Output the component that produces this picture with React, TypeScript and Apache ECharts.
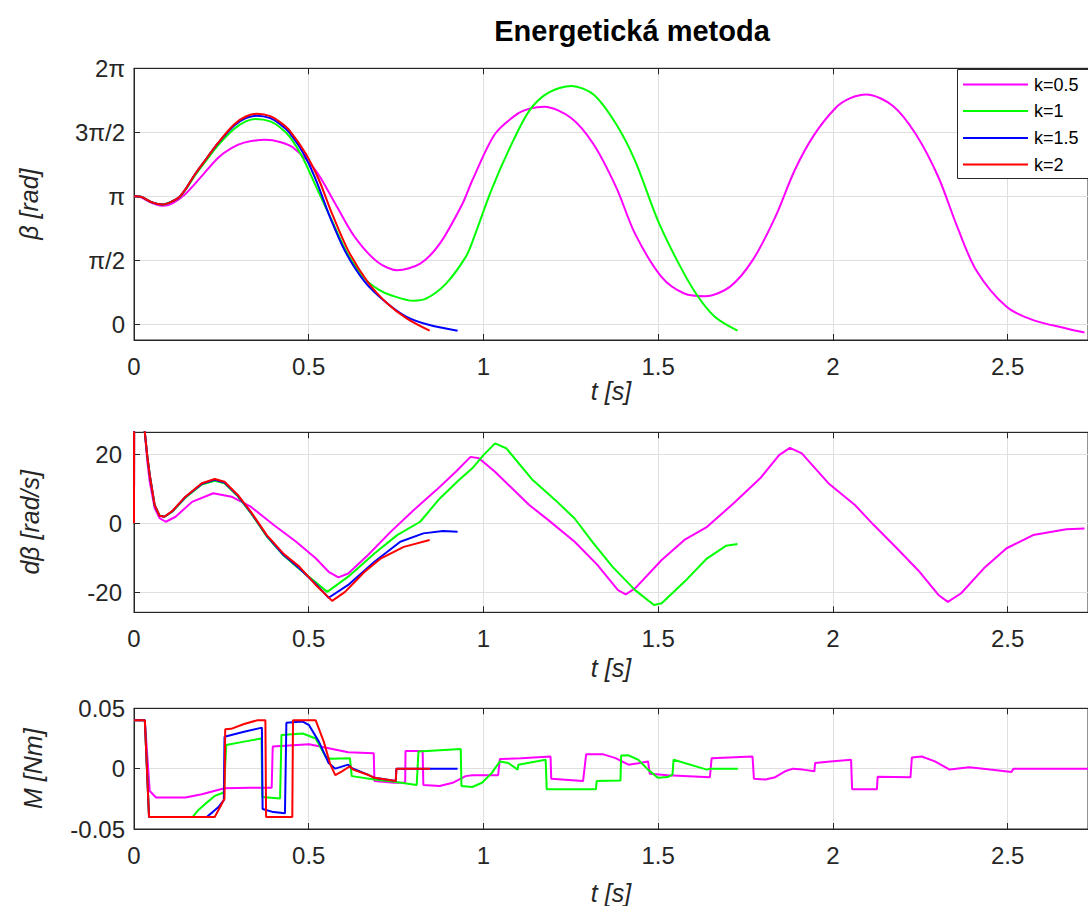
import React, { useEffect, useRef } from "react";
import * as echarts from "echarts";

const PI = Math.PI;
const seriesNames = ["k=0.5", "k=1", "k=1.5", "k=2"];
const seriesColors = ["#ff00ff", "#00ff00", "#0000ff", "#ff0000"];
const xTickLabels = ["0", "0.5", "1", "1.5", "2", "2.5"];
const betaTickValues = [0, PI / 2, PI, (3 * PI) / 2, 2 * PI];
const betaTickLabels = ["0", "π/2", "π", "3π/2", "2π"];
const dBetaTickValues = [-20, 0, 20];

// beta [rad]
const betaK05: number[][] = [
  [0, 3.1416], [0.02, 3.12], [0.05, 2.98], [0.082, 2.91], [0.11, 2.97], [0.147, 3.2], [0.19, 3.6], [0.241, 4.09],
  [0.28, 4.33], [0.315, 4.46], [0.376, 4.53], [0.42, 4.47], [0.455, 4.34], [0.52, 3.77], [0.576, 2.96], [0.632, 2.14],
  [0.697, 1.53], [0.753, 1.33], [0.819, 1.49], [0.875, 1.98], [0.94, 2.96], [0.968, 3.53], [1.033, 4.67], [1.098, 5.17],
  [1.135, 5.3], [1.174, 5.34], [1.25, 5.07], [1.315, 4.42], [1.38, 3.36], [1.434, 2.22], [1.51, 1.16], [1.575, 0.757],
  [1.635, 0.69], [1.705, 0.92], [1.77, 1.57], [1.835, 2.63], [1.89, 3.77], [1.944, 4.62], [2.009, 5.32], [2.05, 5.55],
  [2.096, 5.64], [2.172, 5.36], [2.237, 4.67], [2.302, 3.61], [2.356, 2.39], [2.41, 1.33], [2.497, 0.43], [2.573, 0.105],
  [2.668, -0.1], [2.72, -0.2],
];
const betaK1: number[][] = [
  [0, 3.1416], [0.02, 3.13], [0.05, 3.0], [0.082, 2.94], [0.11, 3.02], [0.129, 3.11], [0.15, 3.33], [0.175, 3.66],
  [0.21, 4.06], [0.241, 4.4], [0.287, 4.8], [0.32, 4.98], [0.348, 5.04], [0.39, 4.98], [0.42, 4.82], [0.446, 4.6],
  [0.483, 4.09], [0.52, 3.4], [0.566, 2.55], [0.61, 1.75], [0.66, 1.12], [0.7, 0.85], [0.735, 0.716], [0.8, 0.577],
  [0.837, 0.635], [0.893, 1.0], [0.949, 1.65], [0.968, 2.02], [1.023, 3.3], [1.076, 4.34], [1.131, 5.24], [1.185, 5.68],
  [1.252, 5.85], [1.315, 5.64], [1.38, 4.91], [1.434, 4.01], [1.499, 2.55], [1.554, 1.57], [1.608, 0.757], [1.662, 0.186],
  [1.727, -0.156],
];
const betaK15: number[][] = [
  [0, 3.1416], [0.02, 3.13], [0.05, 3.0], [0.082, 2.94], [0.11, 3.02], [0.129, 3.117], [0.15, 3.35], [0.175, 3.69],
  [0.21, 4.1], [0.241, 4.45], [0.287, 4.88], [0.32, 5.06], [0.352, 5.12], [0.39, 5.06], [0.42, 4.9], [0.446, 4.69],
  [0.49, 4.12], [0.525, 3.45], [0.56, 2.65], [0.605, 1.78], [0.66, 1.05], [0.72, 0.55], [0.78, 0.186], [0.846, -0.017],
  [0.926, -0.156],
];
const betaK2: number[][] = [
  [0, 3.1416], [0.02, 3.13], [0.05, 3.0], [0.082, 2.94], [0.11, 3.02], [0.129, 3.117], [0.15, 3.35], [0.175, 3.69],
  [0.21, 4.1], [0.241, 4.46], [0.287, 4.91], [0.32, 5.1], [0.352, 5.17], [0.39, 5.11], [0.42, 4.95], [0.446, 4.75],
  [0.492, 4.18], [0.53, 3.53], [0.567, 2.71], [0.613, 1.81], [0.669, 1.04], [0.725, 0.51], [0.78, 0.147], [0.846, -0.156],
];

// d beta [rad/s]
const dBetaK05: number[][] = [
  [0, 0], [0.0005, 45], [0.031, 26.3], [0.038, 18], [0.045, 12], [0.059, 4.5], [0.073, 1.5], [0.091, 0.46], [0.119, 1.9],
  [0.166, 6.2], [0.227, 8.7], [0.279, 7.7], [0.334, 4.8], [0.4, -0.5], [0.464, -5.3], [0.52, -10.1], [0.557, -14.0],
  [0.585, -15.6], [0.613, -14.5], [0.669, -9.2], [0.735, -2.4], [0.8, 3.8], [0.865, 9.6], [0.921, 14.9], [0.963, 19.2],
  [0.987, 18.8], [1.033, 14.9], [1.131, 5.3], [1.185, 1.0], [1.261, -5.3], [1.326, -12.0], [1.385, -19.3], [1.407, -20.5],
  [1.434, -18.8], [1.51, -10.6], [1.575, -4.8], [1.64, -1.0], [1.716, 5.8], [1.792, 13.0], [1.846, 19.7], [1.877, 21.8],
  [1.911, 20.2], [1.987, 11.6], [2.063, 5.3], [2.117, -0.5], [2.183, -7.2], [2.248, -14.0], [2.302, -20.7], [2.329, -22.7],
  [2.367, -20.2], [2.432, -13.0], [2.497, -7.2], [2.573, -3.4], [2.668, -1.7], [2.72, -1.5],
];
const dBetaK1: number[][] = [
  [0, 0], [0.0005, 45], [0.031, 26.3], [0.038, 19.5], [0.045, 14], [0.059, 5.3], [0.073, 2.3], [0.087, 1.9], [0.11, 3.4],
  [0.147, 7.4], [0.194, 11.2], [0.231, 12.3], [0.259, 11.6], [0.297, 7.8], [0.334, 3.0], [0.38, -3.8], [0.427, -9.2],
  [0.473, -13.2], [0.52, -17], [0.553, -19.8], [0.613, -15.4], [0.688, -8.7], [0.753, -3.4], [0.819, 0.46], [0.875, 7.2],
  [0.93, 12.5], [0.968, 15.9], [1.0, 19.7], [1.033, 23.1], [1.065, 21.7], [1.141, 12.5], [1.206, 6.7], [1.261, 1.4],
  [1.315, -5.8], [1.369, -12.5], [1.434, -19.3], [1.488, -23.6], [1.51, -23.1], [1.575, -16.9], [1.64, -10.1],
  [1.694, -6.5], [1.727, -6.0],
];
const dBetaK15: number[][] = [
  [0, 0], [0.0005, 45], [0.031, 26.3], [0.038, 19.5], [0.045, 14], [0.059, 5.3], [0.073, 2.2], [0.087, 1.9], [0.11, 3.5],
  [0.147, 7.6], [0.194, 11.4], [0.231, 12.6], [0.259, 11.8], [0.297, 8.0], [0.334, 3.2], [0.38, -3.6], [0.427, -9.0],
  [0.473, -13], [0.52, -17.5], [0.557, -21.5], [0.613, -17.8], [0.688, -11.1], [0.762, -5.3], [0.828, -2.9],
  [0.884, -2.2], [0.926, -2.4],
];
const dBetaK2: number[][] = [
  [0, 0], [0.0005, 45], [0.031, 26.3], [0.038, 19.5], [0.045, 14], [0.059, 5.3], [0.073, 2.2], [0.087, 1.9], [0.11, 3.6],
  [0.147, 7.7], [0.194, 11.6], [0.231, 12.8], [0.259, 12.0], [0.297, 8.2], [0.334, 3.4], [0.38, -3.4], [0.427, -8.7],
  [0.473, -12.5], [0.52, -17.8], [0.567, -22.4], [0.604, -19.8], [0.66, -14.0], [0.707, -10.1], [0.772, -6.8],
  [0.846, -4.8],
];

// M [Nm]
const mK05: number[][] = [
  [0, 0.04], [0.031, 0.04], [0.045, -0.0185], [0.063, -0.0239], [0.147, -0.0239], [0.194, -0.0212], [0.259, -0.0163],
  [0.334, -0.0158], [0.394, -0.0158], [0.397, 0.0183], [0.501, 0.0202], [0.557, 0.0169], [0.613, 0.0136], [0.686, 0.0128],
  [0.688, -0.0103], [0.744, -0.0117], [0.776, -0.0117], [0.777, 0.0147], [0.826, 0.0147], [0.828, -0.0136], [0.875, -0.0144],
  [0.912, -0.0117], [0.949, -0.0062], [0.968, -0.0054], [1.042, -0.0054], [1.047, 0.0079], [1.108, 0.0087], [1.192, 0.0101],
  [1.194, -0.0084], [1.285, -0.0103], [1.294, 0.012], [1.341, 0.012], [1.378, 0.0087], [1.415, 0.0033], [1.443, 0.0045],
  [1.471, 0.006], [1.476, -0.0043], [1.527, -0.0054], [1.648, -0.0071], [1.653, 0.0087], [1.77, 0.0101], [1.774, -0.0084],
  [1.807, -0.009], [1.835, -0.0071], [1.863, -0.0022], [1.886, 0], [1.914, -0.0008], [1.947, -0.0022], [1.949, 0.0047],
  [1.993, 0.006], [2.052, 0.0074], [2.055, -0.0171], [2.126, -0.0171], [2.128, -0.0068], [2.222, -0.0071], [2.226, 0.0093],
  [2.254, 0.0101], [2.292, 0.006], [2.334, -0.0008], [2.39, 0.0011], [2.45, -0.0008], [2.511, -0.0027], [2.517, 0], [2.73, 0],
];
const mK1: number[][] = [
  [0, 0.04], [0.031, 0.04], [0.043, -0.04], [0.168, -0.04], [0.185, -0.034], [0.203, -0.0294], [0.231, -0.0226],
  [0.257, -0.0198], [0.264, 0.0196], [0.315, 0.0224], [0.365, 0.025], [0.367, -0.0234], [0.418, -0.0247], [0.422, 0.0278],
  [0.483, 0.0291], [0.52, 0.025], [0.548, 0.0101], [0.562, 0.0082], [0.618, 0.0087], [0.623, -0.0062], [0.688, -0.009],
  [0.744, -0.0109], [0.809, -0.0136], [0.814, 0.0142], [0.935, 0.0163], [0.937, -0.0144], [0.968, -0.0152], [0.996, -0.0117],
  [1.024, -0.0035], [1.047, 0.006], [1.071, 0.0047], [1.098, -0.0008], [1.1, 0.0033], [1.178, 0.0074], [1.181, -0.0171],
  [1.322, -0.0171], [1.324, -0.0103], [1.392, -0.0098], [1.394, 0.0109], [1.415, 0.011], [1.443, 0.0074], [1.471, -0.0008],
  [1.499, -0.0076], [1.527, -0.007], [1.541, -0.005], [1.544, 0.0074], [1.639, -0.0008], [1.648, 0], [1.728, 0],
];
const mK15: number[][] = [
  [0, 0.04], [0.031, 0.04], [0.043, -0.04], [0.208, -0.04], [0.225, -0.036], [0.241, -0.032], [0.257, -0.026],
  [0.259, 0.0264], [0.315, 0.0305], [0.366, 0.034], [0.368, -0.0334], [0.399, -0.036], [0.432, -0.037], [0.436, 0.038],
  [0.483, 0.039], [0.501, 0.036], [0.529, 0.0224], [0.557, 0.0047], [0.576, 0], [0.613, 0.0033], [0.622, 0.0005],
  [0.669, -0.005], [0.688, -0.0076], [0.749, -0.0103], [0.751, 0], [0.926, 0],
];
const mK2: number[][] = [
  [0, 0.04], [0.031, 0.04], [0.043, -0.04], [0.231, -0.04], [0.259, -0.025], [0.261, 0.0326], [0.278, 0.033],
  [0.315, 0.037], [0.352, 0.04], [0.376, 0.04], [0.378, -0.04], [0.453, -0.04], [0.455, 0.04], [0.52, 0.04],
  [0.543, 0.0224], [0.562, 0.0033], [0.576, -0.0054], [0.595, -0.0022], [0.618, 0.002], [0.627, -0.0008],
  [0.669, -0.005], [0.688, -0.0076], [0.749, -0.0103], [0.751, 0], [0.847, 0],
];

const betaData = [betaK05, betaK1, betaK15, betaK2];
const dBetaData = [dBetaK05, dBetaK1, dBetaK15, dBetaK2];
const mData = [mK05, mK1, mK15, mK2];

const FONT = "'Liberation Sans', Arial, Helvetica, sans-serif";
const AXIS_COLOR = "#262626";
const GRID_COLOR = "#dfdfdf";
const X_MAX = 2.73;
const TICK_FONT = 24;
const NAME_FONT = 25;

export default function App() {
  const ref = useRef<HTMLDivElement>(null);
  useEffect(() => {
    if (!ref.current) return;
    const chart = echarts.init(ref.current, undefined, { renderer: "svg" });

    const grids = [
      { left: 134, right: -22, top: 68.3, height: 271.7 },
      { left: 134, right: -22, top: 432.3, height: 180 },
      { left: 134, right: -22, top: 708.3, height: 122.7 },
    ].map((g) => ({ ...g, show: true, borderColor: AXIS_COLOR, borderWidth: 1, backgroundColor: "#fff" }));

    const xNameGaps = [35, 43, 51];
    const xAxes: any[] = [];
    grids.forEach((_, i) => {
      xAxes.push({
        type: "value",
        gridIndex: i,
        position: "bottom",
        min: 0,
        max: X_MAX,
        interval: 0.5,
        name: "t [s]",
        nameLocation: "middle",
        nameGap: xNameGaps[i],
        nameTextStyle: { fontFamily: FONT, fontSize: NAME_FONT, fontStyle: "italic", color: AXIS_COLOR },
        axisLine: { show: true, onZero: false, lineStyle: { color: AXIS_COLOR, width: 1 } },
        axisTick: { show: true, inside: true, length: 6, lineStyle: { color: AXIS_COLOR } },
        axisLabel: {
          fontFamily: FONT,
          fontSize: TICK_FONT,
          color: AXIS_COLOR,
          margin: 14,
          showMaxLabel: false,
          formatter: (v: number) => {
            const idx = Math.round(v / 0.5);
            return xTickLabels[idx] ?? "";
          },
        },
        splitLine: { show: true, lineStyle: { color: GRID_COLOR, width: 1 } },
      });
      xAxes.push({
        type: "value",
        gridIndex: i,
        position: "top",
        min: 0,
        max: X_MAX,
        interval: 0.5,
        axisLine: { show: true, onZero: false, lineStyle: { color: AXIS_COLOR, width: 1 } },
        axisTick: { show: true, inside: true, length: 6, lineStyle: { color: AXIS_COLOR } },
        axisLabel: { show: false },
        splitLine: { show: false },
      });
    });

    const yCommon = {
      type: "value",
      nameLocation: "middle",
      nameTextStyle: { fontFamily: FONT, fontSize: NAME_FONT, fontStyle: "italic", color: AXIS_COLOR },
      axisLine: { show: true, onZero: false, lineStyle: { color: AXIS_COLOR, width: 1 } },
      splitLine: { show: true, lineStyle: { color: GRID_COLOR, width: 1 } },
    };
    const yAxes: any[] = [
      {
        ...yCommon,
        gridIndex: 0,
        min: -0.384,
        max: 2 * PI,
        name: "β [rad]",
        nameGap: 93,
        axisTick: { show: true, inside: true, length: 6, lineStyle: { color: AXIS_COLOR }, customValues: betaTickValues },
        axisLabel: {
          fontFamily: FONT,
          fontSize: TICK_FONT,
          color: AXIS_COLOR,
          margin: 9,
          customValues: betaTickValues,
          formatter: (v: number) => {
            const idx = betaTickValues.findIndex((t) => Math.abs(t - v) < 1e-6);
            return idx >= 0 ? betaTickLabels[idx] : "";
          },
        },
      },
      {
        ...yCommon,
        gridIndex: 1,
        min: -25.7,
        max: 26.3,
        name: "dβ [rad/s]",
        nameGap: 92,
        axisTick: { show: true, inside: true, length: 6, lineStyle: { color: AXIS_COLOR }, customValues: dBetaTickValues },
        axisLabel: { fontFamily: FONT, fontSize: TICK_FONT, color: AXIS_COLOR, margin: 12, customValues: dBetaTickValues },
      },
      {
        ...yCommon,
        gridIndex: 2,
        min: -0.05,
        max: 0.05,
        interval: 0.05,
        name: "M [Nm]",
        nameGap: 89,
        axisTick: { show: true, inside: true, length: 6, lineStyle: { color: AXIS_COLOR } },
        axisLabel: { fontFamily: FONT, fontSize: TICK_FONT, color: AXIS_COLOR, margin: 9 },
      },
    ];

    const series: any[] = [];
    const groups = [betaData, dBetaData, mData];
    groups.forEach((group, gi) => {
      group.forEach((data, si) => {
        series.push({
          type: "line",
          name: seriesNames[si],
          xAxisIndex: gi * 2,
          yAxisIndex: gi,
          data,
          showSymbol: false,
          symbol: "none",
          smooth: gi === 0 ? 0.3 : false,
          clip: true,
          lineStyle: { color: seriesColors[si], width: 2 },
          itemStyle: { color: seriesColors[si] },
          z: 2 + si,
        });
      });
    });

    // legend box (drawn so that it runs past the right edge like the reference)
    const legendTop = 69.5;
    const rowY = [84.5, 111, 138, 164.5];
    const legendChildren: any[] = [
      {
        type: "rect",
        z: 100,
        shape: { x: 957.5, y: legendTop, width: 200, height: 109 },
        style: { fill: "#fff", stroke: AXIS_COLOR, lineWidth: 1 },
      },
    ];
    seriesNames.forEach((n, i) => {
      legendChildren.push({
        type: "line",
        z: 101,
        shape: { x1: 963, y1: rowY[i], x2: 1028, y2: rowY[i] },
        style: { stroke: seriesColors[i], lineWidth: 2 },
      });
      legendChildren.push({
        type: "text",
        z: 101,
        x: 1034,
        y: rowY[i],
        style: {
          text: n,
          fontFamily: FONT,
          fontSize: 18,
          fill: "#000",
          verticalAlign: "middle",
          align: "left",
        },
      });
    });

    chart.setOption({
      animation: false,
      backgroundColor: "#fff",
      title: {
        text: "Energetická metoda",
        left: 627,
        textAlign: "center",
        top: 11,
        textStyle: { fontFamily: FONT, fontSize: 29, fontWeight: "bold", color: "#000" },
      },
      graphic: [{ type: "group", z: 100, children: legendChildren }],
      grid: grids,
      xAxis: xAxes,
      yAxis: yAxes,
      series,
    });
    return () => chart.dispose();
  }, []);
  return <div ref={ref} style={{ position: "absolute", left: 0, top: 0, width: 1088, height: 906 }} />;
}
